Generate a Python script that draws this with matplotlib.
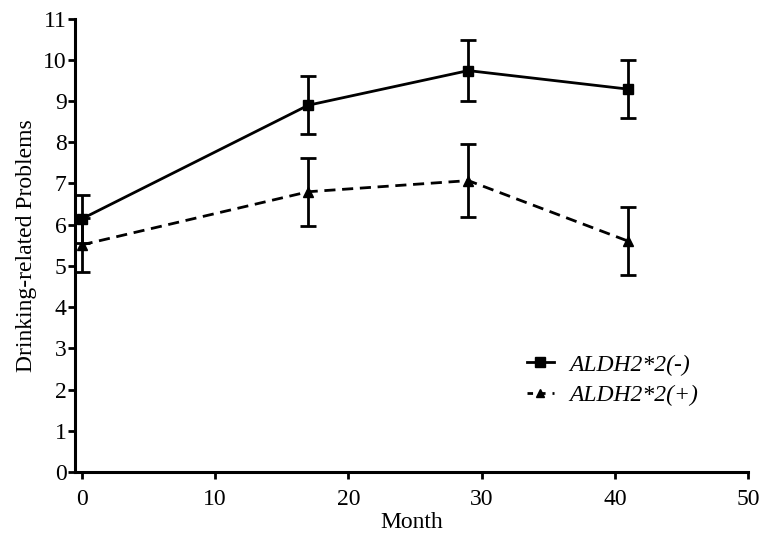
import matplotlib
matplotlib.use("Agg")
import matplotlib.pyplot as plt
from matplotlib.lines import Line2D

months = [0, 17, 29, 41]
neg_mean = [6.14, 8.9, 9.74, 9.29]
neg_err = [0.58, 0.70, 0.75, 0.70]
pos_mean = [5.51, 6.8, 7.07, 5.6]
pos_err = [0.65, 0.82, 0.89, 0.83]
legend_labels = ['ALDH2*2(-)', 'ALDH2*2(+)']

plt.rcParams['font.family'] = ['Liberation Serif', 'DejaVu Serif']

fig = plt.figure(figsize=(7.67, 5.43), dpi=100)
ax = fig.add_axes([0.0978, 0.1309, 0.8777, 0.8347])

dash = (0, (4.0, 2.4))
ax.errorbar(months, neg_mean, yerr=neg_err, color='black', lw=2.0,
            marker='s', markersize=7, capsize=5.5, capthick=2.0, elinewidth=2.0,
            linestyle='-')
ax.errorbar(months, pos_mean, yerr=pos_err, color='black', lw=2.0,
            marker='^', markersize=7, capsize=5.5, capthick=2.0, elinewidth=2.0,
            linestyle=dash)

ax.set_xlim(-0.5, 50)
ax.set_ylim(0, 11)
ax.set_xticks([0, 10, 20, 30, 40, 50])
ax.set_yticks(range(0, 12))
for s in ['top', 'right']:
    ax.spines[s].set_visible(False)
for s in ['left', 'bottom']:
    ax.spines[s].set_linewidth(2.2)
ax.tick_params(direction='out', length=5, width=2, labelsize=17)
ax.tick_params(axis='x', pad=7)
ax.tick_params(axis='y', pad=1)
ax.set_xlabel('Month', fontsize=17, labelpad=2)
ax.set_ylabel('Drinking-related Problems', fontsize=17, labelpad=4)

h1 = Line2D([], [], color='black', lw=2.0, marker='s', markersize=7)
h2 = Line2D([], [], color='black', lw=2.0, marker='^', markersize=6,
            linestyle=(0, (2.0, 2.5)))
leg = ax.legend([h1, h2], legend_labels, loc='upper left',
                bbox_to_anchor=(0.657, 0.281), frameon=False, fontsize=17,
                handlelength=1.15, handletextpad=0.65, labelspacing=0.4,
                borderaxespad=0)
for t in leg.get_texts():
    t.set_fontstyle('italic')

fig.savefig('out.png', dpi=100)
